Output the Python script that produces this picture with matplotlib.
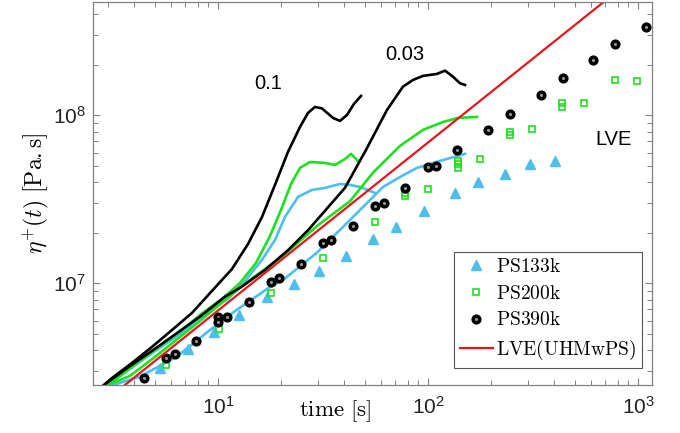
import numpy as np
import matplotlib
matplotlib.use('Agg')
import matplotlib.pyplot as plt

plt.rcParams['font.family'] = ['Liberation Sans', 'DejaVu Sans']
plt.rcParams['mathtext.fontset'] = 'cm'

blue = '#4DBEEE'
green = '#1FE01F'
red = '#E8161B'

# transient viscosity, rate 0.1 1/s
t_b01 = [2.865, 3.13, 3.90, 4.85, 6.04, 7.52, 9.36, 11.66, 13.90, 16.20, 18.68, 21.54, 24.58,
         26.83, 28.97, 31.27, 35.29, 38.11, 41.15, 44.42, 47.97]
e_b01 = [2.48e6, 2.73e6, 3.36e6, 4.18e6, 5.27e6, 6.66e6, 9.00e6, 1.216e7, 1.713e7, 2.48e7, 3.85e7,
         6.05e7, 8.52e7, 1.032e8, 1.121e8, 1.098e8, 9.64e7, 9.25e7, 1.004e8, 1.168e8, 1.303e8]

t_g01 = [2.994, 3.81, 5.01, 6.59, 8.21, 10.45, 12.73, 15.17, 17.69, 19.95, 22.27, 24.58, 27.42,
         32.32, 36.07, 40.26, 42.99, 46.42]
e_g01 = [2.48e6, 3.13e6, 4.01e6, 5.13e6, 6.48e6, 8.07e6, 1.004e7, 1.321e7, 1.912e7, 2.731e7, 3.90e7,
         4.86e7, 5.27e7, 5.20e7, 5.06e7, 5.49e7, 5.89e7, 5.35e7]

t_c01 = [2.994, 3.81, 5.01, 6.59, 8.39, 11.16, 13.45, 16.20, 18.68, 20.84, 24.04, 28.03, 32.32,
         38.11, 42.53, 47.45, 55.93]
e_c01 = [2.48e6, 3.09e6, 3.95e6, 4.99e6, 6.39e6, 8.07e6, 1.032e7, 1.377e7, 1.81e7, 2.48e7, 3.265e7,
         3.593e7, 3.693e7, 3.90e7, 3.85e7, 3.74e7, 3.45e7]

# transient viscosity, rate 0.03 1/s
t_b003 = [2.865, 3.81, 4.92, 6.36, 8.21, 10.80, 12.97, 16.74, 21.62, 26.92, 32.32, 40.26, 50.67,
          63.80, 76.03, 84.83, 94.67, 110.4, 120.5, 131.5, 142.0, 150.1]
e_b003 = [2.48e6, 3.22e6, 4.01e6, 5.04e6, 6.33e6, 8.32e6, 9.54e6, 1.20e7, 1.579e7, 2.077e7, 2.70e7,
          3.70e7, 6.217e7, 1.075e8, 1.48e8, 1.622e8, 1.714e8, 1.762e8, 1.843e8, 1.697e8, 1.55e8,
          1.515e8]

t_g003 = [2.994, 3.81, 5.01, 6.59, 8.21, 10.80, 14.20, 20.39, 29.61, 42.53, 54.70, 73.56, 94.67,
          117.9, 139.0, 171.2]
e_g003 = [2.48e6, 2.81e6, 3.64e6, 4.79e6, 5.97e6, 7.96e6, 1.046e7, 1.454e7, 2.193e7, 3.08e7, 4.55e7,
          6.57e7, 8.18e7, 9.12e7, 9.64e7, 9.77e7]

t_c003 = [3.06, 4.25, 6.36, 9.16, 12.27, 17.69, 20.39, 29.5, 42.53, 61.06, 73.56, 88.63, 114.0, 150.1]
e_c003 = [2.45e6, 2.78e6, 3.66e6, 5.27e6, 6.94e6, 9.51e6, 1.046e7, 1.515e7, 2.38e7, 3.74e7, 4.29e7,
          4.86e7, 5.35e7, 5.89e7]

# linear viscoelastic envelopes
t_133 = [5.32, 7.18, 9.62, 12.56, 17.2, 23.1, 30.4, 40.8, 54.9, 70.2, 95.2, 134.5, 172.1, 232.6,
         306, 402.5]
e_133 = [3.12e6, 4.05e6, 5.12e6, 6.48e6, 8.32e6, 9.95e6, 1.189e7, 1.454e7, 1.835e7, 2.17e7, 2.69e7,
         3.46e7, 4.00e7, 4.50e7, 5.11e7, 5.37e7]

t_200 = [5.65, 10.1, 17.9, 31.7, 56.2, 78.1, 78.1, 100, 139, 139, 139, 177.8, 246.5, 246.5, 313.8,
         436, 436, 555, 777, 992]
e_200 = [3.24e6, 5.32e6, 8.72e6, 1.42e7, 2.31e7, 3.43e7, 3.29e7, 3.63e7, 5.35e7, 5.10e7, 4.86e7,
         5.52e7, 7.99e7, 7.58e7, 8.29e7, 1.176e8, 1.113e8, 1.179e8, 1.629e8, 1.60e8]

t_390 = [4.43, 5.65, 6.22, 7.86, 10.0, 10.0, 11.0, 14.0, 17.8, 19.5, 24.8, 31.7, 34.6, 44.1, 56.2,
         61.4, 78.1, 99.7, 109.5, 138.2, 193.8, 245.7, 344, 437.9, 610.6, 774.5, 1088]
e_390 = [2.72e6, 3.59e6, 3.78e6, 4.55e6, 6.30e6, 5.88e6, 6.33e6, 7.71e6, 1.02e7, 1.075e7, 1.30e7,
         1.73e7, 1.80e7, 2.19e7, 2.90e7, 3.01e7, 3.68e7, 4.90e7, 4.99e7, 6.17e7, 8.21e7, 1.018e8,
         1.327e8, 1.667e8, 2.135e8, 2.669e8, 3.37e8]

t_lve = [2.0, 10.0, 100.0, 1000.0]
e_lve = [1.376e6, 6.88e6, 6.88e7, 6.88e8]

fig = plt.figure(figsize=(6.8, 4.33), dpi=100)
ax = fig.add_axes([93/680, 1-385/433, (652-93)/680, (385-2)/433])
ax.set_xscale('log')
ax.set_yscale('log')

lw = 1.9
ax.plot(t_c01, e_c01, color=blue, lw=lw)
ax.plot(t_g01, e_g01, color=green, lw=lw)
ax.plot(t_b01, e_b01, color='k', lw=lw)
ax.plot(t_c003, e_c003, color=blue, lw=lw)
ax.plot(t_g003, e_g003, color=green, lw=lw)
ax.plot(t_b003, e_b003, color='k', lw=lw)

ax.plot(t_133, e_133, ls='none', marker='^', ms=6.5, color=blue, mec=blue, label=r'$\mathrm{PS133k}$')
ax.plot(t_200, e_200, ls='none', marker='s', ms=4.5, mfc='none', mec=green, mew=1.2,
        label=r'$\mathrm{PS200k}$')
ax.plot(t_390, e_390, ls='none', marker='o', ms=4.8, mfc='#999999', mec='k', mew=2.5,
        label=r'$\mathrm{PS390k}$')
ax.plot(t_lve, e_lve, color=red, lw=1.6, label=r'$\mathrm{LVE(UHMwPS)}$')

ax.set_xlim(2.54, 1166)
ax.set_ylim(2.48e6, 4.72e8)

ax.text(17.3, 1.535e8, '0.1', fontsize=14.5, ha='center', va='center')
ax.text(77.9, 2.285e8, '0.03', fontsize=14.5, ha='center', va='center')
ax.text(761, 7.13e7, 'LVE', fontsize=14.5, ha='center', va='center')

ax.set_xlabel(r'$\mathrm{time\ [s]}$', fontsize=16.5)
ax.xaxis.set_label_coords(0.433, -0.035)
ax.set_ylabel(r'$\eta^{+}(t)\ \mathrm{[Pa.s]}$', fontsize=17)
ax.yaxis.set_label_coords(-0.075, 0.5)

for s in ax.spines.values():
    s.set_color('#808080')
    s.set_linewidth(0.9)
ax.tick_params(which='both', direction='in', top=True, right=True, colors='#808080',
               labelcolor='#222222', labelsize=15)
ax.tick_params(which='major', length=5, width=0.8)
ax.tick_params(which='minor', length=3.5, width=0.7)
ax.tick_params(axis='x', pad=8)
ax.tick_params(axis='y', pad=5)

leg = ax.legend(loc='upper right', bbox_to_anchor=(0.982, 0.347), fontsize=14, fancybox=False,
                framealpha=1, edgecolor='#555555', borderpad=0.3, labelspacing=0.45,
                handlelength=1.7, handletextpad=0.15, borderaxespad=0)
leg.get_frame().set_linewidth(0.8)

fig.savefig('out.png', dpi=100)
